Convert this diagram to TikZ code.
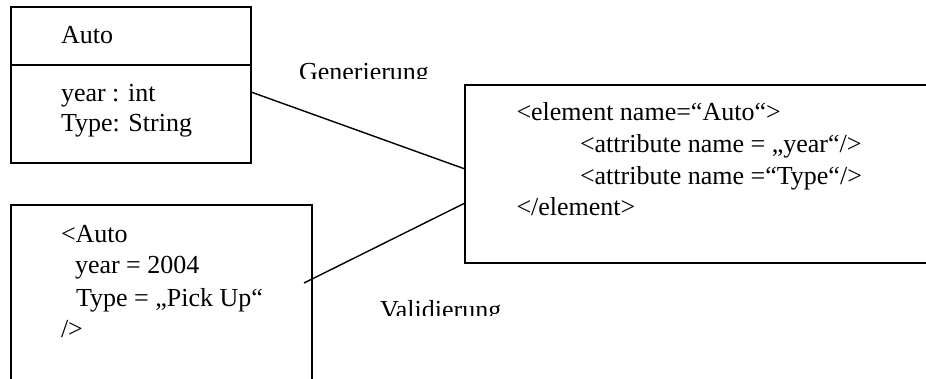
\documentclass[tikz,border=0pt]{standalone}
\usepackage{fontspec}
\setmainfont{Liberation Serif}
\begin{document}
\begin{tikzpicture}[x=1pt,y=-1pt,
  box/.style={draw, line width=1.6pt, inner sep=0pt, outer sep=0pt},
  txt/.style={anchor=base west, inner sep=0pt, outer sep=0pt, font=\fontsize{26}{31}\selectfont},
  link/.style={line width=1.4pt}]
\useasboundingbox (0,0) rectangle (926,378);
\clip (0,0) rectangle (926,378);

% UML class
\node[box, minimum width=240pt, minimum height=156pt] (cls) at (131,85) {};
\draw[line width=1.6pt] ([yshift=-58pt]cls.north west) -- ([yshift=-58pt]cls.north east);
\node[txt] (clsname) at (61,43) {Auto};
\node[txt] (clsa1) at (61,101) {year : int};
\node[txt] (clsa2) at (61,131) {Type: String};

% XML instance
\node[box, minimum width=300.7pt, minimum height=215pt] (inst) at (161.35,312.5) {};
\node[txt] (inst1) at (61,242) {<Auto};
\node[txt] (inst2) at (75,273) {year = 2004};
\node[txt] (inst3) at (76,306) {Type = „Pick Up“};
\node[txt] (inst4) at (61,337) {/>};

% schema
\node[box, minimum width=515pt, minimum height=178pt] (xsd) at (722.5,174) {};
\node[txt] (xsd1) at (516.5,120) {<element name=“Auto“>};
\node[txt] (xsd2) at (580,152) {<attribute name = „year“/>};
\node[txt] (xsd3) at (580,184) {<attribute name =“Type“/>};
\node[txt] (xsd4) at (516.5,215) {</element>};

% labels
\begin{scope}
  \clip (280,50) rectangle (440,78.3);
  \node[txt] (gen) at (299,80) {Generierung};
\end{scope}
\begin{scope}
  \clip (360,290) rectangle (520,315.3);
  \node[txt] (val) at (380,318) {Validierung};
\end{scope}

% connectors
\draw[link] ([yshift=-7pt]cls.east) -- ([yshift=5pt]xsd.west);
\draw[link] ([xshift=-7.7pt,yshift=29.5pt]inst.east) -- ([yshift=-29pt]xsd.west);
\end{tikzpicture}
\end{document}
